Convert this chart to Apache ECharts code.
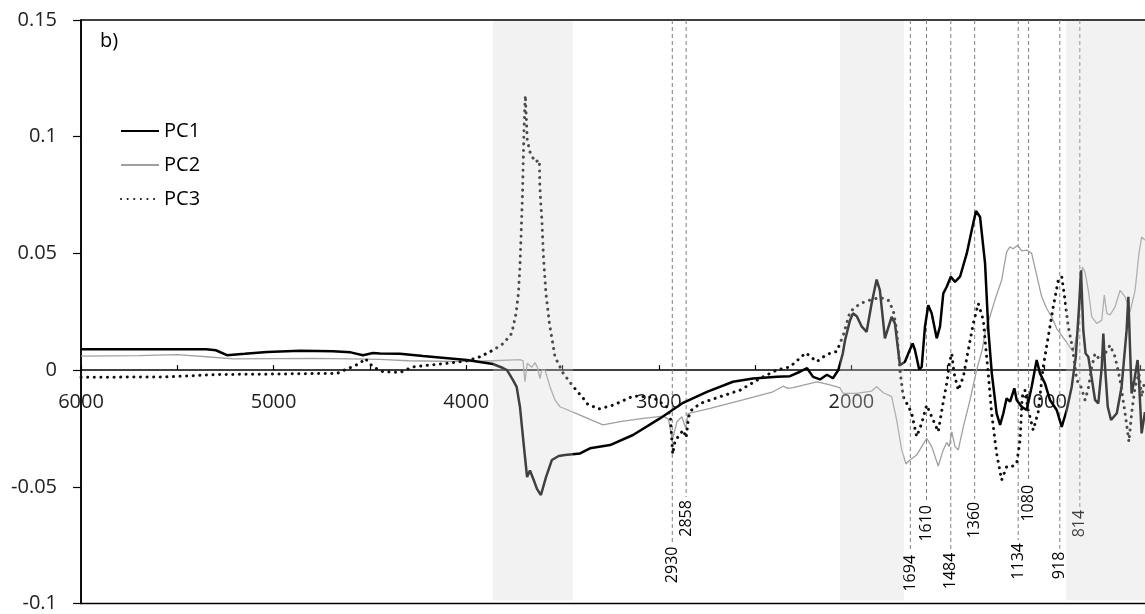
<!DOCTYPE html>
<html>
<head>
<meta charset="utf-8">
<script src="https://cdn.jsdelivr.net/npm/echarts@6/dist/echarts.min.js"></script>
<style>
  html, body { margin: 0; padding: 0; background: #fff; }
  #chart { width: 1145px; height: 614px; }
</style>
</head>
<body>
<div id="chart"></div>
<script>
// PC loadings, [wavenumber, value]
var pc1 = [
  [6000,0.0089],[5350,0.0089],[5300,0.0085],[5242,0.0064],[5150,0.007],[5034,0.0078],[4863,0.0083],[4692,0.0081],[4600,0.0076],[4536,0.0064],[4484,0.0073],[4448,0.0071],[4344,0.007],[4224,0.006],[3996,0.0043],[3861,0.0026],[3809,0.0009],[3788,0],[3757,-0.0043],[3738,-0.0072],[3721,-0.0157],[3700,-0.033],[3684,-0.0458],[3669,-0.043],[3650,-0.047],[3632,-0.051],[3612,-0.0535],[3586,-0.046],[3555,-0.0385],[3520,-0.0368],[3487,-0.0364],[3409,-0.0357],[3357,-0.0335],[3253,-0.0321],[3134,-0.0278],[2994,-0.0207],[2874,-0.014],[2750,-0.0093],[2615,-0.005],[2511,-0.0036],[2386,-0.0029],[2319,-0.0026],[2267,-0.0007],[2230,0.0008],[2199,-0.0029],[2163,-0.004],[2127,-0.002],[2096,-0.0035],[2068,0],[2045,0.007],[2033,0.0128],[2007,0.0214],[1992,0.0243],[1972,0.0231],[1946,0.0186],[1921,0.0164],[1895,0.0285],[1869,0.0388],[1852,0.0342],[1826,0.0136],[1791,0.0228],[1774,0.02],[1748,0.0021],[1722,0.0036],[1697,0.0086],[1682,0.0114],[1670,0.0086],[1648,0.0003],[1635,0.0014],[1618,0.0186],[1601,0.0278],[1583,0.0243],[1557,0.0136],[1540,0.0186],[1523,0.0328],[1505,0.0357],[1484,0.04],[1462,0.0378],[1436,0.04],[1401,0.05],[1375,0.06],[1353,0.0682],[1332,0.0656],[1306,0.0457],[1289,0.0171],[1271,-0.0014],[1246,-0.0185],[1228,-0.0235],[1211,-0.0185],[1194,-0.0121],[1176,-0.0135],[1154,-0.0078],[1142,-0.0128],[1116,-0.0157],[1090,-0.0171],[1064,-0.0071],[1038,0.0043],[1021,-0.0014],[995,-0.0057],[969,-0.0128],[934,-0.0171],[908,-0.0243],[882,-0.0171],[856,-0.0071],[835,0.0057],[818,0.0271],[808,0.0428],[796,0.0171],[784,0.0071],[770,0.0057],[756,-0.0014],[735,-0.0128],[718,-0.0143],[700,0.0014],[692,0.0157],[683,0.0014],[669,-0.0157],[652,-0.0214],[622,-0.0185],[597,-0.0071],[571,0.0171],[562,0.0314],[553,0.0086],[545,-0.01],[531,-0.0043],[514,0.0043],[507,-0.0043],[493,-0.0271],[476,-0.018]
];
var pc2 = [
  [6000,0.006],[5700,0.0062],[5500,0.0066],[5315,0.0055],[5210,0.0048],[5000,0.0049],[4800,0.005],[4600,0.0048],[4448,0.0046],[4300,0.004],[3996,0.0036],[3861,0.004],[3721,0.0045],[3705,0.004],[3695,-0.005],[3683,0.0029],[3660,0.0012],[3643,0.0032],[3631,0.0014],[3617,-0.0036],[3608,0],[3591,0],[3565,-0.0071],[3539,-0.0128],[3513,-0.0157],[3409,-0.0193],[3290,-0.0235],[3201,-0.0221],[3082,-0.0207],[2978,-0.0197],[2950,-0.021],[2930,-0.03],[2905,-0.022],[2880,-0.02],[2860,-0.025],[2849,-0.0186],[2734,-0.0164],[2563,-0.0128],[2407,-0.0093],[2355,-0.0069],[2330,-0.0078],[2303,-0.0075],[2179,-0.005],[2127,-0.006],[2061,-0.0075],[2042,-0.01],[1973,-0.01],[1921,-0.0093],[1895,-0.009],[1869,-0.0071],[1834,-0.0097],[1791,-0.0114],[1765,-0.0214],[1739,-0.0342],[1717,-0.0402],[1696,-0.0385],[1661,-0.0364],[1635,-0.0328],[1609,-0.0292],[1583,-0.0328],[1549,-0.0411],[1523,-0.0342],[1505,-0.031],[1492,-0.0328],[1479,-0.0264],[1462,-0.0328],[1445,-0.0342],[1419,-0.0243],[1384,-0.0128],[1350,0],[1320,0.009],[1306,0.016],[1255,0.03],[1220,0.0385],[1194,0.0507],[1177,0.0528],[1160,0.052],[1137,0.0535],[1116,0.0511],[1090,0.0514],[1064,0.05],[1038,0.0407],[1012,0.0314],[986,0.0264],[960,0.0228],[934,0.0178],[891,0.0128],[848,0.0078],[822,0.0186],[801,0.0442],[787,0.042],[770,0.0342],[752,0.0228],[726,0.02],[700,0.0214],[687,0.0321],[674,0.0243],[657,0.0236],[631,0.0271],[605,0.0342],[579,0.0314],[553,0.025],[527,0.0342],[507,0.05],[493,0.057],[476,0.0557]
];
var pc3 = [
  [6000,-0.0031],[5553,-0.0029],[5295,-0.0019],[5003,-0.0017],[4692,-0.0014],[4671,-0.0014],[4551,0.0029],[4525,0.005],[4484,0.0014],[4432,-0.0007],[4344,-0.001],[4276,0.0014],[4100,0.0029],[3996,0.004],[3928,0.0057],[3859,0.0086],[3807,0.0114],[3764,0.0157],[3741,0.0243],[3729,0.0328],[3721,0.0442],[3714,0.06],[3707,0.0771],[3704,0.0885],[3700,0.1027],[3693,0.1177],[3683,0.0985],[3669,0.0935],[3643,0.0892],[3620,0.0899],[3618,0.08],[3614,0.0728],[3607,0.0642],[3599,0.0485],[3586,0.0328],[3568,0.02],[3539,0.0057],[3496,-0.0014],[3444,-0.0071],[3392,-0.0121],[3374,-0.0143],[3314,-0.0167],[3236,-0.015],[3132,-0.0111],[3029,-0.0117],[2959,-0.0157],[2940,-0.02],[2928,-0.036],[2915,-0.03],[2899,-0.0285],[2873,-0.0257],[2858,-0.029],[2845,-0.02],[2829,-0.0171],[2785,-0.0143],[2682,-0.0114],[2578,-0.0086],[2475,-0.0036],[2388,0],[2319,0.0014],[2236,0.0074],[2180,0.0036],[2128,0.0067],[2076,0.008],[2042,0.015],[2007,0.025],[1955,0.0285],[1903,0.03],[1852,0.0311],[1809,0.03],[1783,0.0257],[1765,0.0171],[1748,0],[1731,-0.0114],[1705,-0.0154],[1687,-0.0185],[1661,-0.0285],[1635,-0.0228],[1609,-0.015],[1583,-0.02],[1549,-0.0264],[1523,-0.0136],[1502,-0.0043],[1492,0.0029],[1479,0.0071],[1467,-0.0014],[1445,-0.0086],[1419,-0.0029],[1393,0.0086],[1367,0.02],[1341,0.0285],[1315,0.0214],[1306,0.0128],[1289,-0.002],[1272,-0.0185],[1246,-0.0357],[1220,-0.0471],[1194,-0.0414],[1168,-0.0414],[1142,-0.04],[1124,-0.03],[1113,-0.0114],[1099,-0.0086],[1082,-0.0171],[1056,-0.0257],[1030,-0.018],[1004,0.0014],[978,0.0143],[952,0.0271],[926,0.0385],[908,0.04],[891,0.03],[874,0.0186],[853,0.01],[830,-0.0043],[808,-0.0071],[787,-0.0128],[770,-0.008],[752,0.0014],[735,0.0071],[709,0.0043],[683,0.0071],[657,0.0107],[631,0.0057],[605,-0.0043],[579,-0.0185],[559,-0.0307],[545,-0.0185],[527,-0.0071],[507,-0.0014],[493,-0.0114],[476,-0.0043]
];

// marked bands (wavenumber from, to)
var bands = [[3861, 3446], [2059, 1727], [886, 400]];

// peak lines and the value where each label starts
var peakWn = [2930, 2858, 1694, 1610, 1484, 1360, 1134, 1080, 918, 814];
var peakLabelTop = [-0.0756, -0.0557, -0.0792, -0.0578, -0.0782, -0.0564, -0.0741, -0.0492, -0.0778, -0.0599];

var yMin = -0.1, yMax = 0.15;
var FONT = '"Open Sans", "Noto Sans", sans-serif';

var gridTop = 20, gridBottom = 10.5;
var plotH = 614 - gridTop - gridBottom;
// x axis sits on y = 0, not at the bottom of the plot
var xAxisOffset = -plotH * (0 - yMin) / (yMax - yMin);

var chart = echarts.init(document.getElementById('chart'));

var peakData = [];
for (var i = 0; i < peakWn.length; i++) {
  peakData.push([peakWn[i], peakLabelTop[i]]);
}

var option = {
  animation: false,
  backgroundColor: '#fff',
  title: {
    text: 'b)',
    left: 100, top: 31, padding: 0,
    textStyle: { fontFamily: FONT, fontSize: 20, fontWeight: 'normal', color: '#000', lineHeight: 20 }
  },
  legend: {
    data: ['PC1', 'PC2', 'PC3'],
    orient: 'vertical',
    left: 120, top: 121, padding: 0,
    itemWidth: 38, itemHeight: 20, itemGap: 14,
    itemStyle: { opacity: 0 },
    textStyle: { fontFamily: FONT, fontSize: 20, color: '#000', lineHeight: 20 }
  },
  grid: {
    left: 81, top: gridTop, width: 1155.6, bottom: gridBottom,
    show: true, borderColor: '#000', borderWidth: 1.5,
    containLabel: false,
    outerBoundsMode: 'none'
  },
  xAxis: {
    type: 'value',
    inverse: true,
    position: 'bottom',
    offset: xAxisOffset,
    min: 0, max: 6000, interval: 500,
    splitLine: { show: false },
    axisLine: { onZero: false, lineStyle: { color: '#000', width: 1.5 } },
    axisTick: { inside: true, length: 5, lineStyle: { color: '#000', width: 1.2 } },
    axisLabel: {
      margin: 22, fontFamily: FONT, fontSize: 20, color: '#222',
      hideOverlap: false,
      formatter: function (v) { return v % 1000 === 0 && v > 0 ? String(v) : ''; }
    }
  },
  yAxis: {
    type: 'value',
    min: yMin, max: yMax, interval: 0.05,
    splitLine: { show: false },
    axisLine: { show: true, onZero: false, lineStyle: { color: '#000', width: 1.5 } },
    axisTick: { show: true, length: 8, lineStyle: { color: '#000', width: 1.2 } },
    axisLabel: {
      margin: 24, fontFamily: FONT, fontSize: 20, color: '#222',
      formatter: function (v) { return String(Math.round(v * 100) / 100); }
    }
  },
  series: [
    {
      name: 'peaks',
      type: 'custom',
      z: 1,
      silent: true,
      data: peakData,
      renderItem: function (params, api) {
        var w = api.value(0);
        var top = api.coord([w, yMax]);
        var end = api.coord([w, api.value(1)]);
        return {
          type: 'group',
          children: [
            {
              type: 'line',
              shape: { x1: top[0], y1: top[1], x2: end[0], y2: end[1] - 3 },
              style: { stroke: '#7f7f7f', lineWidth: 1, lineDash: [4, 3] }
            },
            {
              type: 'text',
              x: end[0], y: end[1],
              rotation: Math.PI / 2,
              style: {
                text: String(w), fill: '#000',
                fontFamily: FONT, fontSize: 16,
                align: 'right', verticalAlign: 'middle'
              }
            }
          ]
        };
      }
    },
    {
      name: 'PC2', type: 'line', data: pc2, z: 2,
      symbol: 'none', showSymbol: false,
      lineStyle: { color: '#a0a0a0', width: 1.3 },
      itemStyle: { color: '#a0a0a0' }
    },
    {
      name: 'PC1', type: 'line', data: pc1, z: 3,
      symbol: 'none', showSymbol: false,
      lineStyle: { color: '#000', width: 2.5 },
      itemStyle: { color: '#000' }
    },
    {
      name: 'PC3', type: 'line', data: pc3, z: 4,
      symbol: 'none', showSymbol: false,
      lineStyle: { color: '#111', width: 3, type: [0.1, 6.5], cap: 'round' },
      itemStyle: { color: '#111' }
    },
    {
      name: 'bands',
      type: 'custom',
      z: 10,
      silent: true,
      clip: false,
      data: bands,
      renderItem: function (params, api) {
        var p1 = api.coord([api.value(0), yMax]);
        var p2 = api.coord([api.value(1), yMin]);
        return {
          type: 'rect',
          shape: { x: p1[0], y: p1[1] + 1, width: p2[0] - p1[0], height: p2[1] - p1[1] - 4 },
          style: { fill: 'rgba(212,212,212,0.3)' }
        };
      }
    }
  ]
};

chart.setOption(option);
</script>
</body>
</html>
